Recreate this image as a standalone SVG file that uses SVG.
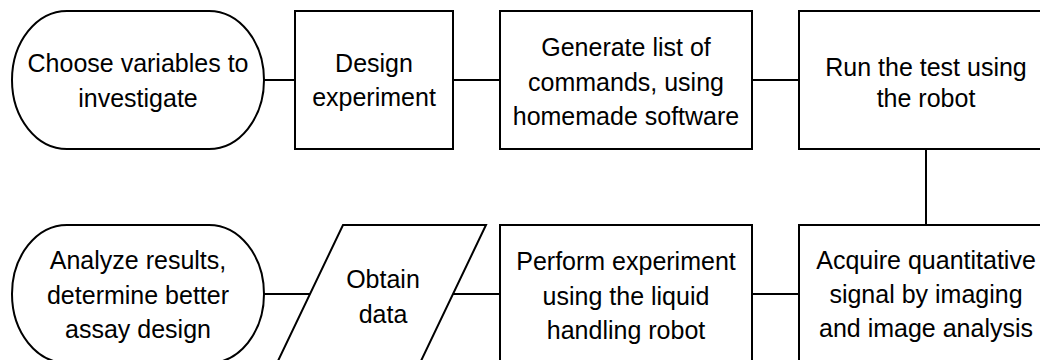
<svg xmlns="http://www.w3.org/2000/svg" width="1040" height="360" viewBox="0 0 1040 360">
<style>
.s{fill:#fff;stroke:#000;stroke-width:2}
.c{fill:none;stroke:#000;stroke-width:2}
text{font-family:"Liberation Sans",Arial,sans-serif;font-size:25px;fill:#000;text-anchor:middle}
</style>
<rect width="1040" height="360" fill="#fff"/>
<g id="connectors">
<line class="c" x1="264" y1="80" x2="295" y2="80"/>
<line class="c" x1="453" y1="80" x2="500" y2="80"/>
<line class="c" x1="752" y1="80" x2="799" y2="80"/>
<line class="c" x1="926" y1="149" x2="926" y2="225"/>
<line class="c" x1="752" y1="294" x2="799" y2="294"/>
<line class="c" x1="453" y1="294" x2="500" y2="294"/>
<line class="c" x1="264" y1="294" x2="310" y2="294"/>
</g>
<g id="choose">
<rect class="s" x="12" y="11" width="252" height="138" rx="55" ry="69"/>
<text x="138" y="72">Choose variables to</text>
<text x="138" y="107">investigate</text>
</g>
<g id="design">
<rect class="s" x="295" y="11" width="158" height="138"/>
<text x="374" y="72">Design</text>
<text x="374" y="106">experiment</text>
</g>
<g id="generate">
<rect class="s" x="500" y="11" width="252" height="138"/>
<text x="626" y="56">Generate list of</text>
<text x="626" y="91">commands, using</text>
<text x="626" y="125">homemade software</text>
</g>
<g id="run">
<rect class="s" x="799" y="11" width="254" height="138"/>
<text x="926" y="76">Run the test using</text>
<text x="926" y="107">the robot</text>
</g>
<g id="acquire">
<rect class="s" x="799" y="225" width="254" height="138"/>
<text x="926" y="269">Acquire quantitative</text>
<text x="926" y="303">signal by imaging</text>
<text x="926" y="337">and image analysis</text>
</g>
<g id="perform">
<rect class="s" x="500" y="225" width="252" height="138"/>
<text x="626" y="270">Perform experiment</text>
<text x="626" y="305">using the liquid</text>
<text x="626" y="339">handling robot</text>
</g>
<g id="obtain">
<polygon class="s" points="343,225 486,225 420,363 277,363"/>
<text x="383" y="288">Obtain</text>
<text x="383" y="323">data</text>
</g>
<g id="analyze">
<rect class="s" x="12" y="225" width="252" height="138" rx="55" ry="69"/>
<text x="138" y="269">Analyze results,</text>
<text x="138" y="304">determine better</text>
<text x="138" y="338">assay design</text>
</g>
</svg>
